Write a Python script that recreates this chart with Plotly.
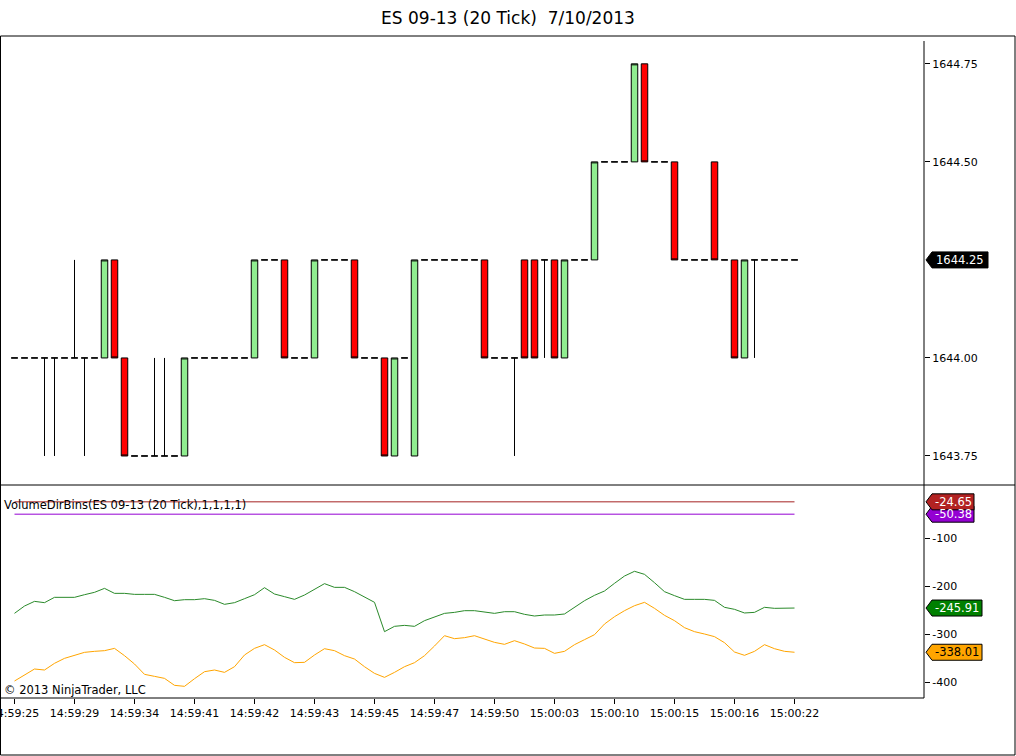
import plotly.graph_objects as go
from plotly.subplots import make_subplots

# ---------------- data ----------------
title = "ES 09-13 (20 Tick)\u00a0 7/10/2013"

bars = list(range(79))

opens = [1644, 1644, 1644, 1644, 1644, 1644, 1644, 1644, 1644, 1644,
         1644.25, 1644, 1643.75, 1643.75, 1643.75, 1643.75, 1643.75, 1643.75, 1644, 1644,
         1644, 1644, 1644, 1644, 1644, 1644.25, 1644.25, 1644.25, 1644, 1644,
         1644, 1644.25, 1644.25, 1644.25, 1644.25, 1644, 1644, 1644, 1643.75, 1644,
         1643.75, 1644.25, 1644.25, 1644.25, 1644.25, 1644.25, 1644.25, 1644.25, 1644, 1644,
         1644, 1644.25, 1644.25, 1644.25, 1644.25, 1644, 1644.25, 1644.25, 1644.25, 1644.5,
         1644.5, 1644.5, 1644.5, 1644.75, 1644.5, 1644.5, 1644.5, 1644.25, 1644.25, 1644.25,
         1644.5, 1644.25, 1644.25, 1644, 1644.25, 1644.25, 1644.25, 1644.25, 1644.25]

highs = [1644, 1644, 1644, 1644, 1644, 1644, 1644.25, 1644, 1644, 1644.25,
         1644.25, 1644, 1643.75, 1643.75, 1644, 1644, 1643.75, 1644, 1644, 1644,
         1644, 1644, 1644, 1644, 1644.25, 1644.25, 1644.25, 1644.25, 1644, 1644,
         1644.25, 1644.25, 1644.25, 1644.25, 1644.25, 1644, 1644, 1644, 1644, 1644,
         1644.25, 1644.25, 1644.25, 1644.25, 1644.25, 1644.25, 1644.25, 1644.25, 1644, 1644,
         1644, 1644.25, 1644.25, 1644.25, 1644.25, 1644.25, 1644.25, 1644.25, 1644.5, 1644.5,
         1644.5, 1644.5, 1644.75, 1644.75, 1644.5, 1644.5, 1644.5, 1644.25, 1644.25, 1644.25,
         1644.5, 1644.25, 1644.25, 1644.25, 1644.25, 1644.25, 1644.25, 1644.25, 1644.25]

lows = [1644, 1644, 1644, 1643.75, 1643.75, 1644, 1644, 1643.75, 1644, 1644,
        1644, 1643.75, 1643.75, 1643.75, 1643.75, 1643.75, 1643.75, 1643.75, 1644, 1644,
        1644, 1644, 1644, 1644, 1644, 1644.25, 1644.25, 1644, 1644, 1644,
        1644, 1644.25, 1644.25, 1644.25, 1644, 1644, 1644, 1643.75, 1643.75, 1644,
        1643.75, 1644.25, 1644.25, 1644.25, 1644.25, 1644.25, 1644.25, 1644, 1644, 1644,
        1643.75, 1644, 1644, 1644, 1644, 1644, 1644.25, 1644.25, 1644.25, 1644.5,
        1644.5, 1644.5, 1644.5, 1644.5, 1644.5, 1644.5, 1644.25, 1644.25, 1644.25, 1644.25,
        1644.25, 1644.25, 1644, 1644, 1644, 1644.25, 1644.25, 1644.25, 1644.25]

closes = [1644, 1644, 1644, 1644, 1644, 1644, 1644, 1644, 1644, 1644.25,
          1644, 1643.75, 1643.75, 1643.75, 1643.75, 1643.75, 1643.75, 1644, 1644, 1644,
          1644, 1644, 1644, 1644, 1644.25, 1644.25, 1644.25, 1644, 1644, 1644,
          1644.25, 1644.25, 1644.25, 1644.25, 1644, 1644, 1644, 1643.75, 1644, 1644,
          1644.25, 1644.25, 1644.25, 1644.25, 1644.25, 1644.25, 1644.25, 1644, 1644, 1644,
          1644, 1644, 1644, 1644.25, 1644, 1644.25, 1644.25, 1644.25, 1644.5, 1644.5,
          1644.5, 1644.5, 1644.75, 1644.5, 1644.5, 1644.5, 1644.25, 1644.25, 1644.25, 1644.25,
          1644.25, 1644.25, 1644, 1644.25, 1644.25, 1644.25, 1644.25, 1644.25, 1644.25]

green_vals = [-256.9, -241.7, -232.0, -234.7, -223.6, -223.6, -223.6, -218.1, -213.2, -204.9,
              -215.3, -215.3, -217.4, -217.4, -217.4, -223.6, -230.6, -228.5, -228.5, -226.4,
              -229.9, -238.2, -234.7, -226.4, -218.1, -203.5, -216.7, -222.2, -227.8, -218.8,
              -207.0, -195.1, -202.8, -202.8, -211.8, -223.6, -234.0, -295.1, -284.0, -282.0,
              -284.0, -272.2, -265.3, -257.0, -254.9, -251.4, -251.4, -253.5, -257.0, -253.5,
              -253.5, -259.0, -262.5, -260.4, -260.4, -258.3, -244.4, -230.6, -219.4, -210.4,
              -194.4, -179.2, -169.4, -175.7, -193.1, -211.8, -220.1, -227.8, -227.8, -227.8,
              -229.9, -244.4, -248.6, -256.2, -254.9, -244.4, -246.5, -246.5, -245.91]

orange_vals = [-397.9, -385.4, -372.9, -375.0, -361.1, -350.7, -343.7, -338.2, -336.1, -334.7,
               -329.9, -345.1, -362.5, -384.0, -388.2, -392.4, -406.9, -409.0, -393.1, -378.5,
               -375.0, -379.9, -368.1, -343.7, -329.9, -322.2, -333.3, -348.6, -359.7, -359.0,
               -343.7, -330.6, -334.7, -345.1, -352.1, -368.1, -382.0, -390.3, -379.9, -368.1,
               -359.7, -345.1, -325.0, -303.5, -309.7, -307.6, -303.5, -309.7, -317.4, -321.5,
               -313.9, -320.8, -329.2, -329.9, -340.3, -336.1, -322.2, -311.8, -301.4, -279.2,
               -263.9, -251.4, -241.0, -234.0, -246.5, -261.1, -272.2, -286.8, -295.1, -300.0,
               -305.5, -318.1, -337.5, -344.4, -336.1, -322.2, -330.6, -336.1, -338.01]

level_red = -24.65
level_purple = -50.38
last_price = 1644.25

tick_bars = [0, 6, 12, 18, 24, 30, 36, 42, 48, 54, 60, 66, 72, 78]
tick_labels = ["14:59:25", "14:59:29", "14:59:34", "14:59:41", "14:59:42", "14:59:43",
               "14:59:45", "14:59:47", "14:59:50", "15:00:03", "15:00:10", "15:00:15",
               "15:00:16", "15:00:22"]
price_ticks = [1643.75, 1644.00, 1644.50, 1644.75]
ind_ticks = [-100, -200, -300, -400]

# ---------------- layout geometry (pixels) ----------------
W, H = 1016, 756
ML, MR, MT, MB = 0, 92, 36, 58
PW, PH = W - ML - MR, H - MT - MB
FONT = "DejaVu Sans"


def px(x):
    return (x - ML) / PW


def py(y):
    return (H - MB - y) / PH


split = py(485)

fig = make_subplots(rows=2, cols=1, shared_xaxes=True, vertical_spacing=0,
                    row_heights=[1 - split, split])

fig.add_trace(go.Candlestick(
    x=bars, open=opens, high=highs, low=lows, close=closes,
    increasing=dict(fillcolor="#90EE90", line=dict(color="black", width=1)),
    decreasing=dict(fillcolor="#FF0000", line=dict(color="black", width=1)),
    whiskerwidth=0, showlegend=False, hoverinfo="skip"), row=1, col=1)

fig.add_trace(go.Scatter(x=[bars[0], bars[-1]], y=[level_red, level_red], mode="lines",
                         line=dict(color="#A52222", width=1), showlegend=False), row=2, col=1)
fig.add_trace(go.Scatter(x=[bars[0], bars[-1]], y=[level_purple, level_purple], mode="lines",
                         line=dict(color="#9400D3", width=1), showlegend=False), row=2, col=1)
fig.add_trace(go.Scatter(x=bars, y=green_vals, mode="lines",
                         line=dict(color="#2A8A2A", width=1), showlegend=False), row=2, col=1)
fig.add_trace(go.Scatter(x=bars, y=orange_vals, mode="lines",
                         line=dict(color="#FFA500", width=1), showlegend=False), row=2, col=1)

axis_font = dict(family=FONT, size=11, color="black")

fig.update_xaxes(range=[-1.45, 90.95], showgrid=False, zeroline=False, showline=False,
                 rangeslider_visible=False, automargin=False)
fig.update_xaxes(showticklabels=False, ticks="", row=1, col=1)
# first label runs off the left edge, as in the NinjaTrader screenshot
fig.update_xaxes(tickvals=tick_bars, ticktext=tick_labels, ticks="outside", ticklen=5,
                 tickcolor="black", tickfont=axis_font, ticklabeloverflow="allow",
                 row=2, col=1)

fig.update_yaxes(side="right", showgrid=False, zeroline=False, showline=False,
                 ticks="outside", ticklen=5, tickcolor="black", tickfont=axis_font,
                 automargin=False)
fig.update_yaxes(range=[1643.676, 1644.821], tickvals=price_ticks,
                 ticktext=["%.2f" % v for v in price_ticks], row=1, col=1)
fig.update_yaxes(range=[-433.3, 10.4], tickvals=ind_ticks,
                 ticktext=[str(v) for v in ind_ticks], row=2, col=1)

# frame lines
shapes = [
    dict(type="rect", xref="paper", yref="paper", x0=px(0.5), x1=px(1015), y0=py(755), y1=py(36),
         line=dict(color="black", width=1)),
    dict(type="line", xref="paper", yref="paper", x0=px(0), x1=px(1015), y0=split, y1=split,
         line=dict(color="black", width=1)),
    dict(type="line", xref="paper", yref="paper", x0=1, x1=1, y0=0, y1=py(41),
         line=dict(color="black", width=1)),
    dict(type="line", xref="paper", yref="paper", x0=0, x1=1, y0=0, y1=0,
         line=dict(color="black", width=1)),
]

annotations = []


def flag(value, yref, right, fill, text_color, per_px, label):
    h = 8 * per_px
    tip, body = px(926), px(932)
    r = px(right)
    path = (f"M {tip},{value} L {body},{value + h} L {r},{value + h} "
            f"L {r},{value - h} L {body},{value - h} Z")
    shapes.append(dict(type="path", xref="paper", yref=yref, path=path,
                       fillcolor=fill, line=dict(color="black", width=1), layer="above"))
    annotations.append(dict(x=(body + r) / 2, y=value, xref="paper", yref=yref, text=label,
                            showarrow=False, xanchor="center", yanchor="middle",
                            font=dict(family=FONT, size=11.5, color=text_color)))


upper_per_px = (1644.821 - 1643.676) / (485 - 36)
lower_per_px = (10.4 + 433.3) / (698 - 485)

flag(last_price, "y", 988, "black", "white", upper_per_px, "%.2f" % last_price)
flag(level_purple, "y2", 974, "#9400D3", "white", lower_per_px, "%.2f" % level_purple)
flag(level_red, "y2", 974, "#B22222", "white", lower_per_px, "%.2f" % level_red)
flag(green_vals[-1], "y2", 982, "#008000", "white", lower_per_px, "%.2f" % green_vals[-1])
flag(orange_vals[-1], "y2", 982, "#FFA500", "black", lower_per_px, "%.2f" % orange_vals[-1])

annotations.append(dict(x=px(1.5), y=py(505), xref="paper", yref="paper",
                        text="VolumeDirBins(ES 09-13 (20 Tick),1,1,1,1)", showarrow=False,
                        xanchor="left", yanchor="middle",
                        font=dict(family=FONT, size=11.5, color="black")))
annotations.append(dict(x=px(1.5), y=py(690), xref="paper", yref="paper",
                        text="\u00a9 2013 NinjaTrader, LLC", showarrow=False,
                        xanchor="left", yanchor="middle",
                        font=dict(family=FONT, size=11.5, color="black")))

fig.update_layout(
    width=W, height=H,
    margin=dict(l=ML, r=MR, t=MT, b=MB, pad=0, autoexpand=False),
    paper_bgcolor="white", plot_bgcolor="white",
    title=dict(text=title, x=0.5, xref="container", xanchor="center",
               y=1 - 18 / H, yref="container", yanchor="middle",
               font=dict(family=FONT, size=17, color="black")),
    boxgap=0.35, boxgroupgap=0,
    shapes=shapes, annotations=annotations,
    showlegend=False,
)

# page body has an 8px default margin; drop it so the chart sits at the window corner
fig.write_html("out.html", config={"displayModeBar": False},
               post_script="document.body.style.margin='0';")
